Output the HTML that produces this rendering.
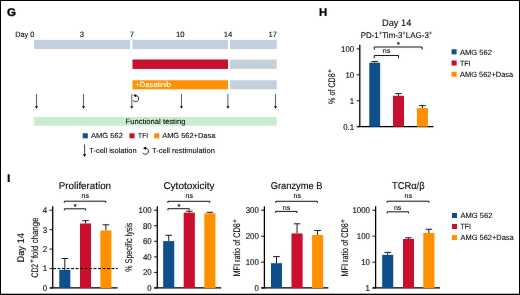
<!DOCTYPE html>
<html lang="en">
<head>
<meta charset="utf-8">
<title>Figure G-I</title>
<style>
html,body{margin:0;padding:0;background:#fff;}
body{width:520px;height:295px;overflow:hidden;}
svg{display:block;font-family:"Liberation Sans",Arial,Helvetica,sans-serif;text-rendering:geometricPrecision;}
</style>
</head>
<body>
<svg width="520" height="295" viewBox="0 0 520 295">
<rect x="0" y="0" width="520" height="295" fill="#fff"/>
<defs><filter id="soft" x="0" y="0" width="520" height="295" filterUnits="userSpaceOnUse" color-interpolation-filters="sRGB"><feGaussianBlur in="SourceGraphic" stdDeviation="0.8" result="b"/><feComponentTransfer in="b" result="h"><feFuncA type="linear" slope="0.12"/></feComponentTransfer><feBlend in="SourceGraphic" in2="h" mode="normal"/></filter></defs>
<g id="fig" filter="url(#soft)">
<text transform="translate(7.00,16.40) scale(1.0329,1)" font-size="11.2" text-anchor="start" font-weight="bold" fill="#000" stroke="#000" stroke-width="0.3">G</text>
<text transform="translate(15.20,36.70) scale(0.9546,1)" font-size="7.7" text-anchor="start" font-weight="normal" fill="#0c0c0c" stroke="#0c0c0c" stroke-width="0.08">Day 0</text>
<text transform="translate(82.00,36.70)" font-size="7.7" text-anchor="middle" font-weight="normal" fill="#0c0c0c" stroke="#0c0c0c" stroke-width="0.08">3</text>
<text transform="translate(132.00,36.70)" font-size="7.7" text-anchor="middle" font-weight="normal" fill="#0c0c0c" stroke="#0c0c0c" stroke-width="0.08">7</text>
<text transform="translate(180.20,36.70)" font-size="7.7" text-anchor="middle" font-weight="normal" fill="#0c0c0c" stroke="#0c0c0c" stroke-width="0.08">10</text>
<text transform="translate(228.00,36.70)" font-size="7.7" text-anchor="middle" font-weight="normal" fill="#0c0c0c" stroke="#0c0c0c" stroke-width="0.08">14</text>
<text transform="translate(272.70,36.70)" font-size="7.7" text-anchor="middle" font-weight="normal" fill="#0c0c0c" stroke="#0c0c0c" stroke-width="0.08">17</text>
<rect x="34.10" y="39.90" width="95.90" height="9.10" fill="#c3d1df"/>
<rect x="132.50" y="39.90" width="95.50" height="9.10" fill="#c3d1df"/>
<rect x="230.00" y="39.90" width="46.70" height="9.10" fill="#c3d1df"/>
<rect x="132.50" y="59.50" width="95.50" height="9.40" fill="#c8102e"/>
<rect x="230.00" y="59.50" width="46.70" height="9.40" fill="#c3d1df"/>
<rect x="132.50" y="80.30" width="95.50" height="9.00" fill="#ff9100"/>
<rect x="230.00" y="80.30" width="46.70" height="9.00" fill="#c3d1df"/>
<text transform="translate(135.50,87.40) scale(0.9959,1)" font-size="7.5" text-anchor="start" font-weight="normal" fill="#fff" stroke="#fff" stroke-width="0.1">+Dasatinib</text>
<line x1="36.50" y1="93.80" x2="36.50" y2="106.70" stroke="#333" stroke-width="0.75" />
<path d="M35.05,106.20 L37.95,106.20 L36.50,108.80 Z" fill="#000"/>
<line x1="83.50" y1="93.80" x2="83.50" y2="106.70" stroke="#333" stroke-width="0.75" />
<path d="M82.05,106.20 L84.95,106.20 L83.50,108.80 Z" fill="#000"/>
<line x1="131.80" y1="93.80" x2="131.80" y2="106.70" stroke="#333" stroke-width="0.75" />
<path d="M130.35,106.20 L133.25,106.20 L131.80,108.80 Z" fill="#000"/>
<line x1="181.50" y1="93.80" x2="181.50" y2="106.70" stroke="#333" stroke-width="0.75" />
<path d="M180.05,106.20 L182.95,106.20 L181.50,108.80 Z" fill="#000"/>
<line x1="227.90" y1="93.80" x2="227.90" y2="106.70" stroke="#333" stroke-width="0.75" />
<path d="M226.45,106.20 L229.35,106.20 L227.90,108.80 Z" fill="#000"/>
<line x1="275.50" y1="93.80" x2="275.50" y2="106.70" stroke="#333" stroke-width="0.75" />
<path d="M274.05,106.20 L276.95,106.20 L275.50,108.80 Z" fill="#000"/>
<path d="M135.33,95.51 A3.1,3.1 0 1 1 132.92,100.15" fill="none" stroke="#0c0c0c" stroke-width="0.8"/>
<path d="M133.33,95.61 L136.13,93.91 L136.13,97.21 Z" fill="#000"/>
<rect x="34.10" y="117.00" width="242.60" height="8.70" fill="#c9ebd0"/>
<text transform="translate(125.50,123.80) scale(0.9942,1)" font-size="7.7" text-anchor="start" font-weight="normal" fill="#0c0c0c" stroke="#0c0c0c" stroke-width="0.08">Functional testing</text>
<rect x="82.80" y="133.30" width="5.00" height="5.00" fill="#0f4f8a"/>
<text transform="translate(91.00,138.40) scale(1.0238,1)" font-size="7.4" text-anchor="start" font-weight="normal" fill="#0c0c0c" stroke="#0c0c0c" stroke-width="0.08">AMG 562</text>
<rect x="129.50" y="133.30" width="5.00" height="5.00" fill="#c8102e"/>
<text transform="translate(138.10,138.40) scale(0.9009,1)" font-size="7.4" text-anchor="start" font-weight="normal" fill="#0c0c0c" stroke="#0c0c0c" stroke-width="0.08">TFI</text>
<rect x="154.20" y="133.30" width="5.00" height="5.00" fill="#ff9100"/>
<text transform="translate(162.20,138.40) scale(1.0065,1)" font-size="7.4" text-anchor="start" font-weight="normal" fill="#0c0c0c" stroke="#0c0c0c" stroke-width="0.08">AMG 562+Dasa</text>
<line x1="84.60" y1="144.40" x2="84.60" y2="154.80" stroke="#333" stroke-width="0.9" />
<path d="M83.00,154.30 L86.20,154.30 L84.60,156.90 Z" fill="#000"/>
<text transform="translate(89.30,153.10) scale(1.0088,1)" font-size="7.4" text-anchor="start" font-weight="normal" fill="#0c0c0c" stroke="#0c0c0c" stroke-width="0.08">T-cell isolation</text>
<path d="M145.13,148.11 A3.1,3.1 0 1 1 142.72,152.75" fill="none" stroke="#0c0c0c" stroke-width="0.8"/>
<path d="M143.13,148.21 L145.93,146.51 L145.93,149.81 Z" fill="#000"/>
<text transform="translate(152.00,153.10) scale(1.0197,1)" font-size="7.4" text-anchor="start" font-weight="normal" fill="#0c0c0c" stroke="#0c0c0c" stroke-width="0.08">T-cell restimulation</text>
<text transform="translate(319.00,15.80) scale(1.0140,1)" font-size="11.2" text-anchor="start" font-weight="bold" fill="#000" stroke="#000" stroke-width="0.2">H</text>
<text transform="translate(382.00,25.70) scale(0.9769,1)" font-size="9.5" text-anchor="start" font-weight="normal" fill="#0c0c0c" stroke="#0c0c0c" stroke-width="0.06">Day 14</text>
<text transform="translate(360.70,37.60) scale(0.9568,1)" font-size="8.3" text-anchor="start" font-weight="normal" fill="#0c0c0c" stroke="#0c0c0c" stroke-width="0.08"><tspan dy="0">PD-1</tspan><tspan font-size="6.3" dy="-3.1" stroke-width="0">+</tspan><tspan dy="3.1">Tim-3</tspan><tspan font-size="6.3" dy="-3.1" stroke-width="0">+</tspan><tspan dy="3.1">LAG-3</tspan><tspan font-size="6.3" dy="-3.1" stroke-width="0">+</tspan></text>
<line x1="359.80" y1="44.80" x2="359.80" y2="126.90" stroke="#000" stroke-width="1.25" />
<line x1="357.60" y1="126.60" x2="433.40" y2="126.60" stroke="#000" stroke-width="1.1" />
<line x1="356.60" y1="48.90" x2="359.80" y2="48.90" stroke="#000" stroke-width="0.9" />
<text transform="translate(354.20,51.75) scale(0.9400,1)" font-size="8.4" text-anchor="end" font-weight="normal" fill="#0c0c0c" stroke="#0c0c0c" stroke-width="0.1">100</text>
<line x1="356.60" y1="74.80" x2="359.80" y2="74.80" stroke="#000" stroke-width="0.9" />
<text transform="translate(354.20,77.65) scale(0.9400,1)" font-size="8.4" text-anchor="end" font-weight="normal" fill="#0c0c0c" stroke="#0c0c0c" stroke-width="0.1">10</text>
<line x1="356.60" y1="100.80" x2="359.80" y2="100.80" stroke="#000" stroke-width="0.9" />
<text transform="translate(354.20,103.65) scale(0.9400,1)" font-size="8.4" text-anchor="end" font-weight="normal" fill="#0c0c0c" stroke="#0c0c0c" stroke-width="0.1">1</text>
<line x1="356.60" y1="126.70" x2="359.80" y2="126.70" stroke="#000" stroke-width="0.9" />
<text transform="translate(354.20,129.55) scale(0.9400,1)" font-size="8.4" text-anchor="end" font-weight="normal" fill="#0c0c0c" stroke="#0c0c0c" stroke-width="0.1">0.1</text>
<line x1="374.70" y1="61.40" x2="374.70" y2="62.70" stroke="#0c0c0c" stroke-width="0.9" />
<line x1="371.40" y1="61.40" x2="378.00" y2="61.40" stroke="#0c0c0c" stroke-width="0.9" />
<rect x="369.30" y="62.70" width="10.80" height="64.00" fill="#0f4f8a"/>
<line x1="398.50" y1="93.60" x2="398.50" y2="95.80" stroke="#0c0c0c" stroke-width="0.9" />
<line x1="395.20" y1="93.60" x2="401.80" y2="93.60" stroke="#0c0c0c" stroke-width="0.9" />
<rect x="393.00" y="95.80" width="11.00" height="30.90" fill="#c8102e"/>
<line x1="422.40" y1="105.60" x2="422.40" y2="108.10" stroke="#0c0c0c" stroke-width="0.9" />
<line x1="419.10" y1="105.60" x2="425.70" y2="105.60" stroke="#0c0c0c" stroke-width="0.9" />
<rect x="416.90" y="108.10" width="11.00" height="18.60" fill="#ff9100"/>
<path d="M374.30,49.70 V47.00 H422.10 V49.70" fill="none" stroke="#111" stroke-width="0.95" stroke-linejoin="round" stroke-linecap="butt"/>
<text transform="translate(398.30,46.70)" font-size="7.2" text-anchor="middle" font-weight="normal" fill="#0c0c0c" stroke="#0c0c0c" stroke-width="0.2">*</text>
<path d="M374.30,58.20 V55.50 H398.50 V58.20" fill="none" stroke="#111" stroke-width="0.95" stroke-linejoin="round" stroke-linecap="butt"/>
<text transform="translate(382.80,52.70) scale(1.0011,1)" font-size="7.0" text-anchor="start" font-weight="normal" fill="#0c0c0c" stroke="#0c0c0c" stroke-width="0.08">ns</text>
<text transform="translate(335.30,103.90) rotate(-90) scale(0.7528,1)" font-size="9.5" text-anchor="start" font-weight="normal" fill="#0c0c0c" stroke="#0c0c0c" stroke-width="0.08">% of CD8</text>
<text transform="translate(331.91,72.73) rotate(-90) scale(0.9500,1)" font-size="6.6" text-anchor="start" font-weight="normal" fill="#0c0c0c" stroke="#0c0c0c" stroke-width="0.1">+</text>
<rect x="451.60" y="49.30" width="5.00" height="5.00" fill="#0f4f8a"/>
<text transform="translate(460.00,54.60) scale(0.9968,1)" font-size="7.6" text-anchor="start" font-weight="normal" fill="#0c0c0c" stroke="#0c0c0c" stroke-width="0.08">AMG 562</text>
<rect x="451.60" y="60.50" width="5.00" height="5.00" fill="#c8102e"/>
<text transform="translate(460.00,65.80) scale(0.9211,1)" font-size="7.6" text-anchor="start" font-weight="normal" fill="#0c0c0c" stroke="#0c0c0c" stroke-width="0.08">TFI</text>
<rect x="451.60" y="71.70" width="5.00" height="5.00" fill="#ff9100"/>
<text transform="translate(460.00,77.00) scale(0.9800,1)" font-size="7.6" text-anchor="start" font-weight="normal" fill="#0c0c0c" stroke="#0c0c0c" stroke-width="0.08">AMG 562+Dasa</text>
<text transform="translate(7.05,181.60) scale(1.1000,1)" font-size="11.2" text-anchor="start" font-weight="bold" fill="#000" stroke="#000" stroke-width="0.15">I</text>
<text transform="translate(23.90,262.50) rotate(-90) scale(0.9667,1)" font-size="9.6" text-anchor="start" font-weight="normal" fill="#0c0c0c" stroke="#0c0c0c" stroke-width="0.08">Day 14</text>
<text transform="translate(37.80,277.50) rotate(-90) scale(0.7154,1)" font-size="9.5" text-anchor="start" font-weight="normal" fill="#0c0c0c" stroke="#0c0c0c" stroke-width="0.08">CD2</text>
<text transform="translate(34.21,262.63) rotate(-90) scale(0.9500,1)" font-size="6.6" text-anchor="start" font-weight="normal" fill="#0c0c0c" stroke="#0c0c0c" stroke-width="0.1">+</text>
<text transform="translate(37.80,258.20) rotate(-90) scale(0.8285,1)" font-size="9.5" text-anchor="start" font-weight="normal" fill="#0c0c0c" stroke="#0c0c0c" stroke-width="0.08">fold change</text>
<text transform="translate(58.80,188.70) scale(0.9919,1)" font-size="9.9" text-anchor="start" font-weight="normal" fill="#0c0c0c" stroke="#0c0c0c" stroke-width="0.1">Proliferation</text>
<line x1="52.70" y1="206.30" x2="52.70" y2="288.20" stroke="#000" stroke-width="1.25" />
<line x1="50.30" y1="287.90" x2="117.60" y2="287.90" stroke="#000" stroke-width="1.1" />
<line x1="49.50" y1="210.20" x2="52.70" y2="210.20" stroke="#000" stroke-width="0.9" />
<text transform="translate(47.10,213.05) scale(0.9400,1)" font-size="8.4" text-anchor="end" font-weight="normal" fill="#0c0c0c" stroke="#0c0c0c" stroke-width="0.1">4</text>
<line x1="49.50" y1="229.70" x2="52.70" y2="229.70" stroke="#000" stroke-width="0.9" />
<text transform="translate(47.10,232.55) scale(0.9400,1)" font-size="8.4" text-anchor="end" font-weight="normal" fill="#0c0c0c" stroke="#0c0c0c" stroke-width="0.1">3</text>
<line x1="49.50" y1="249.10" x2="52.70" y2="249.10" stroke="#000" stroke-width="0.9" />
<text transform="translate(47.10,251.95) scale(0.9400,1)" font-size="8.4" text-anchor="end" font-weight="normal" fill="#0c0c0c" stroke="#0c0c0c" stroke-width="0.1">2</text>
<line x1="49.50" y1="268.60" x2="52.70" y2="268.60" stroke="#000" stroke-width="0.9" />
<text transform="translate(47.10,271.45) scale(0.9400,1)" font-size="8.4" text-anchor="end" font-weight="normal" fill="#0c0c0c" stroke="#0c0c0c" stroke-width="0.1">1</text>
<line x1="49.50" y1="288.00" x2="52.70" y2="288.00" stroke="#000" stroke-width="0.9" />
<text transform="translate(47.10,290.85) scale(0.9400,1)" font-size="8.4" text-anchor="end" font-weight="normal" fill="#0c0c0c" stroke="#0c0c0c" stroke-width="0.1">0</text>
<line x1="64.80" y1="258.50" x2="64.80" y2="270.00" stroke="#0c0c0c" stroke-width="0.9" />
<line x1="61.50" y1="258.50" x2="68.10" y2="258.50" stroke="#0c0c0c" stroke-width="0.9" />
<rect x="59.30" y="270.00" width="11.00" height="18.00" fill="#0f4f8a"/>
<line x1="85.50" y1="220.70" x2="85.50" y2="223.50" stroke="#0c0c0c" stroke-width="0.9" />
<line x1="82.20" y1="220.70" x2="88.80" y2="220.70" stroke="#0c0c0c" stroke-width="0.9" />
<rect x="80.00" y="223.50" width="11.00" height="64.50" fill="#c8102e"/>
<line x1="105.90" y1="224.80" x2="105.90" y2="230.50" stroke="#0c0c0c" stroke-width="0.9" />
<line x1="102.60" y1="224.80" x2="109.20" y2="224.80" stroke="#0c0c0c" stroke-width="0.9" />
<rect x="100.40" y="230.50" width="11.00" height="57.50" fill="#ff9100"/>
<line x1="53.00" y1="268.60" x2="117.80" y2="268.60" stroke="#000" stroke-width="1.0" stroke-dasharray="3 1.5"/>
<path d="M64.30,202.80 V201.20 H105.80 V202.80" fill="none" stroke="#111" stroke-width="0.95" stroke-linejoin="round" stroke-linecap="butt"/>
<text transform="translate(81.50,197.70) scale(1.0011,1)" font-size="7.0" text-anchor="start" font-weight="normal" fill="#0c0c0c" stroke="#0c0c0c" stroke-width="0.08">ns</text>
<path d="M64.30,210.40 V208.80 H85.60 V210.40" fill="none" stroke="#111" stroke-width="0.95" stroke-linejoin="round" stroke-linecap="butt"/>
<text transform="translate(75.10,208.60)" font-size="7.2" text-anchor="middle" font-weight="normal" fill="#0c0c0c" stroke="#0c0c0c" stroke-width="0.2">*</text>
<text transform="translate(163.40,188.70) scale(1.0117,1)" font-size="9.9" text-anchor="start" font-weight="normal" fill="#0c0c0c" stroke="#0c0c0c" stroke-width="0.1">Cytotoxicity</text>
<text transform="translate(132.30,271.70) rotate(-90) scale(0.7361,1)" font-size="9.7" text-anchor="start" font-weight="normal" fill="#0c0c0c" stroke="#0c0c0c" stroke-width="0.08">% Specific lysis</text>
<line x1="157.30" y1="206.30" x2="157.30" y2="288.20" stroke="#000" stroke-width="1.25" />
<line x1="154.40" y1="287.90" x2="221.10" y2="287.90" stroke="#000" stroke-width="1.1" />
<line x1="154.10" y1="210.20" x2="157.30" y2="210.20" stroke="#000" stroke-width="0.9" />
<text transform="translate(151.70,213.05) scale(0.9400,1)" font-size="8.4" text-anchor="end" font-weight="normal" fill="#0c0c0c" stroke="#0c0c0c" stroke-width="0.1">100</text>
<line x1="154.10" y1="225.80" x2="157.30" y2="225.80" stroke="#000" stroke-width="0.9" />
<text transform="translate(151.70,228.65) scale(0.9400,1)" font-size="8.4" text-anchor="end" font-weight="normal" fill="#0c0c0c" stroke="#0c0c0c" stroke-width="0.1">80</text>
<line x1="154.10" y1="241.30" x2="157.30" y2="241.30" stroke="#000" stroke-width="0.9" />
<text transform="translate(151.70,244.15) scale(0.9400,1)" font-size="8.4" text-anchor="end" font-weight="normal" fill="#0c0c0c" stroke="#0c0c0c" stroke-width="0.1">60</text>
<line x1="154.10" y1="256.90" x2="157.30" y2="256.90" stroke="#000" stroke-width="0.9" />
<text transform="translate(151.70,259.75) scale(0.9400,1)" font-size="8.4" text-anchor="end" font-weight="normal" fill="#0c0c0c" stroke="#0c0c0c" stroke-width="0.1">40</text>
<line x1="154.10" y1="272.40" x2="157.30" y2="272.40" stroke="#000" stroke-width="0.9" />
<text transform="translate(151.70,275.25) scale(0.9400,1)" font-size="8.4" text-anchor="end" font-weight="normal" fill="#0c0c0c" stroke="#0c0c0c" stroke-width="0.1">20</text>
<line x1="154.10" y1="288.00" x2="157.30" y2="288.00" stroke="#000" stroke-width="0.9" />
<text transform="translate(151.70,290.85) scale(0.9400,1)" font-size="8.4" text-anchor="end" font-weight="normal" fill="#0c0c0c" stroke="#0c0c0c" stroke-width="0.1">0</text>
<line x1="168.70" y1="235.30" x2="168.70" y2="241.10" stroke="#0c0c0c" stroke-width="0.9" />
<line x1="165.40" y1="235.30" x2="172.00" y2="235.30" stroke="#0c0c0c" stroke-width="0.9" />
<rect x="163.20" y="241.10" width="11.00" height="46.90" fill="#0f4f8a"/>
<line x1="189.25" y1="211.20" x2="189.25" y2="212.70" stroke="#0c0c0c" stroke-width="0.9" />
<line x1="185.95" y1="211.20" x2="192.55" y2="211.20" stroke="#0c0c0c" stroke-width="0.9" />
<rect x="183.70" y="212.70" width="11.10" height="75.30" fill="#c8102e"/>
<line x1="209.85" y1="212.30" x2="209.85" y2="213.40" stroke="#0c0c0c" stroke-width="0.9" />
<line x1="206.55" y1="212.30" x2="213.15" y2="212.30" stroke="#0c0c0c" stroke-width="0.9" />
<rect x="204.30" y="213.40" width="11.10" height="74.60" fill="#ff9100"/>
<path d="M167.90,202.90 V201.30 H209.80 V202.90" fill="none" stroke="#111" stroke-width="0.95" stroke-linejoin="round" stroke-linecap="butt"/>
<text transform="translate(185.50,197.70) scale(1.0011,1)" font-size="7.0" text-anchor="start" font-weight="normal" fill="#0c0c0c" stroke="#0c0c0c" stroke-width="0.08">ns</text>
<path d="M167.90,210.30 V208.70 H189.30 V210.30" fill="none" stroke="#111" stroke-width="0.95" stroke-linejoin="round" stroke-linecap="butt"/>
<text transform="translate(178.80,208.60)" font-size="7.2" text-anchor="middle" font-weight="normal" fill="#0c0c0c" stroke="#0c0c0c" stroke-width="0.2">*</text>
<text transform="translate(270.70,188.70) scale(0.9452,1)" font-size="9.9" text-anchor="start" font-weight="normal" fill="#0c0c0c" stroke="#0c0c0c" stroke-width="0.1">Granzyme B</text>
<text transform="translate(240.40,276.50) rotate(-90) scale(0.7635,1)" font-size="9.5" text-anchor="start" font-weight="normal" fill="#0c0c0c" stroke="#0c0c0c" stroke-width="0.08">MFI ratio of CD8</text>
<text transform="translate(237.31,222.63) rotate(-90) scale(0.9500,1)" font-size="6.6" text-anchor="start" font-weight="normal" fill="#0c0c0c" stroke="#0c0c0c" stroke-width="0.1">+</text>
<line x1="264.40" y1="206.30" x2="264.40" y2="288.20" stroke="#000" stroke-width="1.25" />
<line x1="261.40" y1="287.90" x2="328.40" y2="287.90" stroke="#000" stroke-width="1.1" />
<line x1="261.20" y1="210.20" x2="264.40" y2="210.20" stroke="#000" stroke-width="0.9" />
<text transform="translate(258.80,213.05) scale(0.9400,1)" font-size="8.4" text-anchor="end" font-weight="normal" fill="#0c0c0c" stroke="#0c0c0c" stroke-width="0.1">300</text>
<line x1="261.20" y1="236.20" x2="264.40" y2="236.20" stroke="#000" stroke-width="0.9" />
<text transform="translate(258.80,239.05) scale(0.9400,1)" font-size="8.4" text-anchor="end" font-weight="normal" fill="#0c0c0c" stroke="#0c0c0c" stroke-width="0.1">200</text>
<line x1="261.20" y1="262.20" x2="264.40" y2="262.20" stroke="#000" stroke-width="0.9" />
<text transform="translate(258.80,265.05) scale(0.9400,1)" font-size="8.4" text-anchor="end" font-weight="normal" fill="#0c0c0c" stroke="#0c0c0c" stroke-width="0.1">100</text>
<line x1="261.20" y1="288.00" x2="264.40" y2="288.00" stroke="#000" stroke-width="0.9" />
<text transform="translate(258.80,290.85) scale(0.9400,1)" font-size="8.4" text-anchor="end" font-weight="normal" fill="#0c0c0c" stroke="#0c0c0c" stroke-width="0.1">0</text>
<line x1="276.50" y1="256.60" x2="276.50" y2="263.20" stroke="#0c0c0c" stroke-width="0.9" />
<line x1="273.20" y1="256.60" x2="279.80" y2="256.60" stroke="#0c0c0c" stroke-width="0.9" />
<rect x="271.00" y="263.20" width="11.00" height="24.80" fill="#0f4f8a"/>
<line x1="297.05" y1="223.80" x2="297.05" y2="233.50" stroke="#0c0c0c" stroke-width="0.9" />
<line x1="293.75" y1="223.80" x2="300.35" y2="223.80" stroke="#0c0c0c" stroke-width="0.9" />
<rect x="291.50" y="233.50" width="11.10" height="54.50" fill="#c8102e"/>
<line x1="317.60" y1="230.50" x2="317.60" y2="235.00" stroke="#0c0c0c" stroke-width="0.9" />
<line x1="314.30" y1="230.50" x2="320.90" y2="230.50" stroke="#0c0c0c" stroke-width="0.9" />
<rect x="312.10" y="235.00" width="11.00" height="53.00" fill="#ff9100"/>
<path d="M275.70,202.90 V201.30 H317.40 V202.90" fill="none" stroke="#111" stroke-width="0.95" stroke-linejoin="round" stroke-linecap="butt"/>
<text transform="translate(293.60,197.70) scale(1.0011,1)" font-size="7.0" text-anchor="start" font-weight="normal" fill="#0c0c0c" stroke="#0c0c0c" stroke-width="0.08">ns</text>
<path d="M275.70,213.00 V211.40 H297.00 V213.00" fill="none" stroke="#111" stroke-width="0.95" stroke-linejoin="round" stroke-linecap="butt"/>
<text transform="translate(282.80,209.50) scale(1.0011,1)" font-size="7.0" text-anchor="start" font-weight="normal" fill="#0c0c0c" stroke="#0c0c0c" stroke-width="0.08">ns</text>
<text transform="translate(392.00,188.70) scale(0.9446,1)" font-size="9.9" text-anchor="start" font-weight="normal" fill="#0c0c0c" stroke="#0c0c0c" stroke-width="0.1">TCRα/β</text>
<text transform="translate(347.90,276.50) rotate(-90) scale(0.7635,1)" font-size="9.5" text-anchor="start" font-weight="normal" fill="#0c0c0c" stroke="#0c0c0c" stroke-width="0.08">MFI ratio of CD8</text>
<text transform="translate(344.81,222.63) rotate(-90) scale(0.9500,1)" font-size="6.6" text-anchor="start" font-weight="normal" fill="#0c0c0c" stroke="#0c0c0c" stroke-width="0.1">+</text>
<line x1="375.60" y1="206.30" x2="375.60" y2="288.20" stroke="#000" stroke-width="1.25" />
<line x1="372.70" y1="287.90" x2="439.90" y2="287.90" stroke="#000" stroke-width="1.1" />
<line x1="372.40" y1="210.20" x2="375.60" y2="210.20" stroke="#000" stroke-width="0.9" />
<text transform="translate(370.00,213.05) scale(0.9400,1)" font-size="8.4" text-anchor="end" font-weight="normal" fill="#0c0c0c" stroke="#0c0c0c" stroke-width="0.1">1000</text>
<line x1="372.40" y1="236.20" x2="375.60" y2="236.20" stroke="#000" stroke-width="0.9" />
<text transform="translate(370.00,239.05) scale(0.9400,1)" font-size="8.4" text-anchor="end" font-weight="normal" fill="#0c0c0c" stroke="#0c0c0c" stroke-width="0.1">100</text>
<line x1="372.40" y1="262.20" x2="375.60" y2="262.20" stroke="#000" stroke-width="0.9" />
<text transform="translate(370.00,265.05) scale(0.9400,1)" font-size="8.4" text-anchor="end" font-weight="normal" fill="#0c0c0c" stroke="#0c0c0c" stroke-width="0.1">10</text>
<line x1="372.40" y1="288.00" x2="375.60" y2="288.00" stroke="#000" stroke-width="0.9" />
<text transform="translate(370.00,290.85) scale(0.9400,1)" font-size="8.4" text-anchor="end" font-weight="normal" fill="#0c0c0c" stroke="#0c0c0c" stroke-width="0.1">1</text>
<line x1="387.70" y1="252.40" x2="387.70" y2="254.90" stroke="#0c0c0c" stroke-width="0.9" />
<line x1="384.40" y1="252.40" x2="391.00" y2="252.40" stroke="#0c0c0c" stroke-width="0.9" />
<rect x="382.20" y="254.90" width="11.00" height="33.10" fill="#0f4f8a"/>
<line x1="408.50" y1="237.80" x2="408.50" y2="239.00" stroke="#0c0c0c" stroke-width="0.9" />
<line x1="405.20" y1="237.80" x2="411.80" y2="237.80" stroke="#0c0c0c" stroke-width="0.9" />
<rect x="403.00" y="239.00" width="11.00" height="49.00" fill="#c8102e"/>
<line x1="428.85" y1="229.30" x2="428.85" y2="233.00" stroke="#0c0c0c" stroke-width="0.9" />
<line x1="425.55" y1="229.30" x2="432.15" y2="229.30" stroke="#0c0c0c" stroke-width="0.9" />
<rect x="423.30" y="233.00" width="11.10" height="55.00" fill="#ff9100"/>
<path d="M387.20,202.80 V201.20 H428.90 V202.80" fill="none" stroke="#111" stroke-width="0.95" stroke-linejoin="round" stroke-linecap="butt"/>
<text transform="translate(404.60,197.70) scale(1.0011,1)" font-size="7.0" text-anchor="start" font-weight="normal" fill="#0c0c0c" stroke="#0c0c0c" stroke-width="0.08">ns</text>
<path d="M387.20,213.40 V211.80 H408.50 V213.40" fill="none" stroke="#111" stroke-width="0.95" stroke-linejoin="round" stroke-linecap="butt"/>
<text transform="translate(393.90,209.50) scale(1.0011,1)" font-size="7.0" text-anchor="start" font-weight="normal" fill="#0c0c0c" stroke="#0c0c0c" stroke-width="0.08">ns</text>
<rect x="452.00" y="213.00" width="5.00" height="5.00" fill="#0f4f8a"/>
<text transform="translate(460.50,218.25) scale(0.9968,1)" font-size="7.6" text-anchor="start" font-weight="normal" fill="#0c0c0c" stroke="#0c0c0c" stroke-width="0.08">AMG 562</text>
<rect x="452.00" y="224.00" width="5.00" height="5.00" fill="#c8102e"/>
<text transform="translate(460.50,229.25) scale(0.9211,1)" font-size="7.6" text-anchor="start" font-weight="normal" fill="#0c0c0c" stroke="#0c0c0c" stroke-width="0.08">TFI</text>
<rect x="452.00" y="235.00" width="5.00" height="5.00" fill="#ff9100"/>
<text transform="translate(460.50,240.25) scale(0.9800,1)" font-size="7.6" text-anchor="start" font-weight="normal" fill="#0c0c0c" stroke="#0c0c0c" stroke-width="0.08">AMG 562+Dasa</text>
</g>
<rect x="0.5" y="0.5" width="519" height="294" fill="none" stroke="#000" stroke-width="1"/>
<rect x="0" y="293.7" width="520" height="1.3" fill="#000"/>
</svg>
</body>
</html>
